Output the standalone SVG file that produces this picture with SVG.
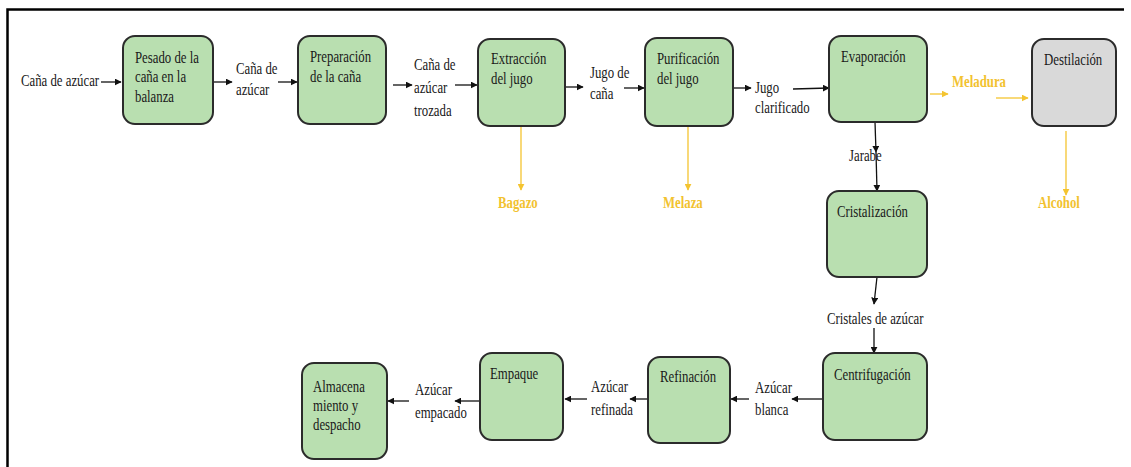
<svg xmlns="http://www.w3.org/2000/svg" width="1131" height="467" viewBox="0 0 1131 467">
<defs>
<style>
.box{fill:#b9dfb0;stroke:#2b2b2b;stroke-width:2}
.gray{fill:#d9d9d9;stroke:#2b2b2b;stroke-width:2}
.t{font-family:"Liberation Serif","Times New Roman",serif;font-size:16px;fill:#1a1a1a}
.y{font-family:"Liberation Serif","Times New Roman",serif;font-size:16px;font-weight:bold;fill:#f2c230}
.c{fill:none;stroke:#111;stroke-width:1.3}
.cy{fill:none;stroke:#f4c430;stroke-width:1.3}
</style>
<marker id="a" viewBox="0 0 10 10" refX="9" refY="5" markerWidth="7" markerHeight="7" orient="auto" markerUnits="userSpaceOnUse"><path d="M0,0 L10,5 L0,10 z" fill="#111"/></marker>
<marker id="ay" viewBox="0 0 10 10" refX="9" refY="5" markerWidth="7" markerHeight="7" orient="auto" markerUnits="userSpaceOnUse"><path d="M0,0 L10,5 L0,10 z" fill="#f4c430"/></marker>
</defs>
<rect width="1131" height="467" fill="#fff"/>
<path d="M7.5,467 V9.5 H1124" fill="none" stroke="#000" stroke-width="2.5"/>

<g id="connectors">
<path class="c" d="M101,82 H121" marker-end="url(#a)"/>
<path class="c" d="M213,82 H232" marker-end="url(#a)"/>
<path class="c" d="M278,82 H297" marker-end="url(#a)"/>
<path class="c" d="M393,85 H412" marker-end="url(#a)"/>
<path class="c" d="M455,85 H477" marker-end="url(#a)"/>
<path class="c" d="M564,87 H583" marker-end="url(#a)"/>
<path class="c" d="M624,88 H644" marker-end="url(#a)"/>
<path class="c" d="M733,88 H751" marker-end="url(#a)"/>
<path class="c" d="M793,89 L829,88" marker-end="url(#a)"/>
<path class="cy" d="M930,94 H948" marker-end="url(#ay)"/>
<path class="cy" d="M996,98 H1028" marker-end="url(#ay)"/>
<path class="cy" d="M521,126 V190" marker-end="url(#ay)"/>
<path class="cy" d="M688,126 V190" marker-end="url(#ay)"/>
<path class="cy" d="M1066,131 V195" marker-end="url(#ay)"/>
<path class="c" d="M875,122 L876,152" marker-end="url(#a)"/>
<path class="c" d="M876,152 L877,191" marker-end="url(#a)"/>
<path class="c" d="M877,277 L874,304" marker-end="url(#a)"/>
<path class="c" d="M874,328 V353" marker-end="url(#a)"/>
<path class="c" d="M823,399 H792" marker-end="url(#a)"/>
<path class="c" d="M749,399 H731" marker-end="url(#a)"/>
<path class="c" d="M648,399 H630" marker-end="url(#a)"/>
<path class="c" d="M587,399 H565" marker-end="url(#a)"/>
<path class="c" d="M480,401 H455" marker-end="url(#a)"/>
<path class="c" d="M409,401 H388" marker-end="url(#a)"/>
</g>

<g id="labels">
<text class="t" transform="translate(21,86) scale(0.8 1)">Caña de azúcar</text>
<text class="t" transform="translate(236,74) scale(0.8 1)"><tspan x="0" y="0">Caña de</tspan><tspan x="0" y="21">azúcar</tspan></text>
<text class="t" transform="translate(414,70) scale(0.8 1)"><tspan x="0" y="0">Caña de</tspan><tspan x="0" y="23">azúcar</tspan><tspan x="0" y="46">trozada</tspan></text>
<text class="t" transform="translate(590,78) scale(0.8 1)"><tspan x="0" y="0">Jugo de</tspan><tspan x="0" y="21">caña</tspan></text>
<text class="t" transform="translate(755,93) scale(0.8 1)"><tspan x="0" y="0">Jugo</tspan><tspan x="0" y="20">clarificado</tspan></text>
<text class="y" transform="translate(952,87) scale(0.8 1)">Meladura</text>
<text class="y" transform="translate(498,208) scale(0.8 1)">Bagazo</text>
<text class="y" transform="translate(663,208) scale(0.8 1)">Melaza</text>
<text class="y" transform="translate(1038,208) scale(0.8 1)">Alcohol</text>
<text class="t" transform="translate(849,161) scale(0.8 1)">Jarabe</text>
<text class="t" transform="translate(827,324) scale(0.8 1)">Cristales de azúcar</text>
<text class="t" transform="translate(755,393) scale(0.8 1)"><tspan x="0" y="0">Azúcar</tspan><tspan x="0" y="22">blanca</tspan></text>
<text class="t" transform="translate(591,392) scale(0.8 1)"><tspan x="0" y="0">Azúcar</tspan><tspan x="0" y="23">refinada</tspan></text>
<text class="t" transform="translate(415,395) scale(0.8 1)"><tspan x="0" y="0">Azúcar</tspan><tspan x="0" y="23">empacado</tspan></text>
</g>

<g id="pesado">
<rect class="box" x="123" y="36" width="90" height="88" rx="12"/>
<text class="t" transform="translate(135,63) scale(0.8 1)"><tspan x="0" y="0">Pesado de la</tspan><tspan x="0" y="19.5">caña en la</tspan><tspan x="0" y="39">balanza</tspan></text>
</g>
<g id="preparacion">
<rect class="box" x="298" y="36" width="88" height="88" rx="12"/>
<text class="t" transform="translate(310,62) scale(0.8 1)"><tspan x="0" y="0">Preparación</tspan><tspan x="0" y="20">de la caña</tspan></text>
</g>
<g id="extraccion">
<rect class="box" x="478" y="39" width="87" height="87" rx="12"/>
<text class="t" transform="translate(491,64) scale(0.8 1)"><tspan x="0" y="0">Extracción</tspan><tspan x="0" y="20">del jugo</tspan></text>
</g>
<g id="purificacion">
<rect class="box" x="645" y="38" width="88" height="88" rx="12"/>
<text class="t" transform="translate(657,64) scale(0.8 1)"><tspan x="0" y="0">Purificación</tspan><tspan x="0" y="20">del jugo</tspan></text>
</g>
<g id="evaporacion">
<rect class="box" x="829" y="36" width="98" height="86" rx="12"/>
<text class="t" transform="translate(841,62) scale(0.8 1)">Evaporación</text>
</g>
<g id="destilacion">
<rect class="gray" x="1032" y="39" width="84" height="87" rx="12"/>
<text class="t" transform="translate(1044,65) scale(0.8 1)">Destilación</text>
</g>
<g id="cristalizacion">
<rect class="box" x="827" y="191" width="100" height="86" rx="12"/>
<text class="t" transform="translate(837,217) scale(0.8 1)">Cristalización</text>
</g>
<g id="centrifugacion">
<rect class="box" x="823" y="353" width="104" height="87" rx="12"/>
<text class="t" transform="translate(834,380) scale(0.8 1)">Centrifugación</text>
</g>
<g id="refinacion">
<rect class="box" x="648" y="357" width="82" height="86" rx="12"/>
<text class="t" transform="translate(660,382) scale(0.8 1)">Refinación</text>
</g>
<g id="empaque">
<rect class="box" x="480" y="353" width="83" height="87" rx="12"/>
<text class="t" transform="translate(490,379) scale(0.8 1)">Empaque</text>
</g>
<g id="almacenamiento">
<rect class="box" x="302" y="363" width="85" height="96" rx="12"/>
<text class="t" transform="translate(313,392) scale(0.8 1)"><tspan x="0" y="0">Almacena</tspan><tspan x="0" y="19">miento y</tspan><tspan x="0" y="38">despacho</tspan></text>
</g>
</svg>
